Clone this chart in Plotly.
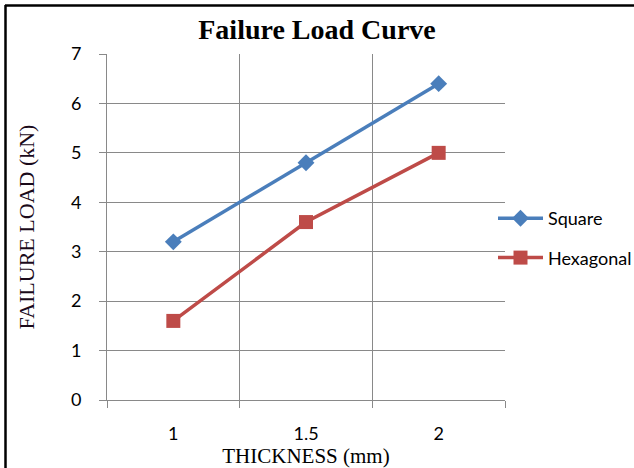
import plotly.graph_objects as go

thickness = ["1", "1.5", "2"]
square = [3.2, 4.8, 6.4]
hexagonal = [1.6, 3.6, 5.0]
y_ticks = [0, 1, 2, 3, 4, 5, 6, 7]

fig = go.Figure()
fig.add_trace(go.Scatter(x=thickness, y=square, name="Square", mode="lines+markers",
                         legendgroup="a",
                         line=dict(color="#4a7ebb", width=3.5),
                         marker=dict(symbol="diamond", size=13, color="#4a7ebb")))
fig.add_trace(go.Scatter(x=thickness, y=hexagonal, name="Hexagonal", mode="lines+markers",
                         legendgroup="b",
                         line=dict(color="#be4b48", width=3.5),
                         marker=dict(symbol="square", size=14, color="#be4b48")))

L, R, T, B = 107, 129, 54, 68
W, H = 634, 468
pw, ph = W - L - R, H - T - B

def px(x):
    return (x - L) / pw

def py(y):
    return (H - B - y) / ph

fig.update_layout(
    width=W, height=H,
    margin=dict(l=L, r=R, t=T, b=B, autoexpand=False),
    paper_bgcolor="white", plot_bgcolor="white",
    title=dict(text="<b>Failure Load Curve</b>", x=0.5, xanchor="center",
               y=1 - 29 / H, yanchor="middle",
               font=dict(family="Liberation Serif", size=28, color="black")),
    xaxis=dict(type="category", tickson="boundaries", ticks="outside", ticklen=7,
               range=[-0.5, 2.5], automargin=False,
               tickcolor="#898989", showgrid=True, gridcolor="#898989", gridwidth=1,
               showline=True, linecolor="#898989", linewidth=1,
               tickfont=dict(family="Lato", size=18, color="black"),
               ticklabelstandoff=17,
               title=dict(text="THICKNESS (mm)", standoff=8,
                          font=dict(family="Liberation Serif", size=21, color="black"))),
    yaxis=dict(range=[0, 7], tickvals=y_ticks, ticks="outside", ticklen=7, automargin=False,
               tickcolor="#898989", showgrid=True, gridcolor="#898989", gridwidth=1,
               showline=True, linecolor="#898989", linewidth=1, zeroline=False,
               tickfont=dict(family="Lato", size=18, color="black"),
               ticklabelstandoff=14,
               title=dict(text="FAILURE LOAD (kN)", standoff=30,
                          font=dict(family="Liberation Serif", size=22, color="#1a0a1a"))),
    legend=dict(x=px(493), y=py(200), xanchor="left", yanchor="top",
                font=dict(family="Lato", size=18, color="black"),
                tracegroupgap=13, itemwidth=45, bgcolor="rgba(0,0,0,0)"),
    showlegend=True,
)

fig.add_shape(type="line", xref="paper", yref="paper",
              x0=px(5), x1=px(640), y0=py(5.5), y1=py(5.5),
              line=dict(color="black", width=2.5))
fig.add_shape(type="line", xref="paper", yref="paper",
              x0=px(5.5), x1=px(5.5), y0=py(5), y1=py(475),
              line=dict(color="black", width=2.5))

fig.write_html("out.html")
